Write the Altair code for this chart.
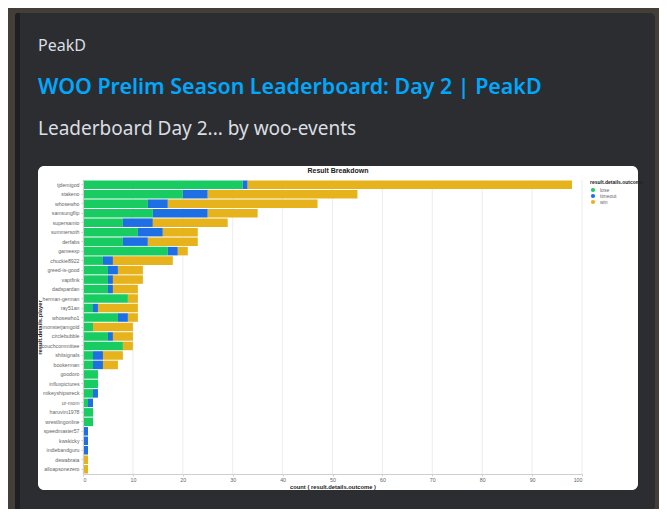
import altair as alt
import pandas as pd

players = ["tjdemigod", "stakeno", "whosewho", "samsungflip", "supersamio", "summersoth",
           "derfabs", "gameexp", "chuckie8922", "greed-is-good", "vaptfink", "dadspardan",
           "herman-german", "ray51an", "whosewho1", "monsterjamgold", "circlebubble",
           "couchcommittee", "shitsignals", "bookerman", "goodoro", "influxpictures",
           "mikeyshipwreck", "ur-mom", "haruvim1978", "wrestlingonline", "speedmaster57",
           "kwskicky", "indiebandguru", "dewabrata", "alloapsonezero"]
lose =    [32, 20, 13, 14, 8, 11, 8, 17, 4, 5, 5, 5, 9, 2, 7, 2, 5, 8, 2, 2, 3, 3, 2, 1, 2, 2, 0, 0, 0, 0, 0]
timeout = [1, 5, 4, 11, 6, 5, 5, 2, 2, 2, 1, 1, 0, 1, 2, 0, 1, 0, 2, 2, 0, 0, 1, 1, 0, 0, 1, 1, 1, 0, 0]
win =     [65, 30, 30, 10, 15, 7, 10, 2, 12, 5, 6, 5, 2, 8, 2, 8, 4, 2, 4, 3, 0, 0, 0, 0, 0, 0, 0, 0, 0, 1, 1]
outcomes = ["lose", "timeout", "win"]
colors = ["#18cc62", "#1d6fe3", "#e7b31d"]
x_ticks = [0, 10, 20, 30, 40, 50, 60, 70, 80, 90, 100]

rows = []
for p, l, t, w in zip(players, lose, timeout, win):
    for o, c in zip(outcomes, (l, t, w)):
        if c > 0:
            rows.append({"player": p, "outcome": o, "n": c})
df = pd.DataFrame(rows)

W, H = 499, 294
one = pd.DataFrame({"k": [0]})
base = alt.Chart(one)

card = base.mark_rect(color="#2b2d31", cornerRadius=5).encode(
    x=alt.value(-68), x2=alt.value(572), y=alt.value(-167), y2=alt.value(331))
strip = base.mark_rect(color="#1e1f22", cornerRadiusTopLeft=5, cornerRadiusBottomLeft=5).encode(
    x=alt.value(-68), x2=alt.value(-63), y=alt.value(-167), y2=alt.value(331))
white = base.mark_rect(color="#ffffff", cornerRadius=6).encode(
    x=alt.value(-45), x2=alt.value(555), y=alt.value(-14), y2=alt.value(310))

xscale = alt.Scale(domain=[0, 100], nice=False)
x_axis = alt.Axis(values=x_ticks, title="count ( result.details.outcome )", grid=False,
                  zindex=1, labelFontSize=5.3, titleFontSize=5.8, titleFontWeight="bold",
                  labelColor="#666", titleColor="#222", domainColor="#cfcfcf",
                  tickColor="#cfcfcf", tickSize=2, labelPadding=1.5, titlePadding=0.5)

grid = alt.Chart(pd.DataFrame({"n": x_ticks})).mark_rule(color="#e8e8e8", strokeWidth=0.8).encode(
    x=alt.X("n:Q", scale=xscale, axis=x_axis), y=alt.value(0), y2=alt.value(H))

bars = alt.Chart(df).mark_bar().encode(
    x=alt.X("sum(n):Q", scale=xscale, axis=x_axis),
    y=alt.Y("player:N", sort=players, title="result.details.player",
            axis=alt.Axis(zindex=1, labelFontSize=5.2, titleFontSize=5.8, titleFontWeight="bold",
                          labelColor="#666", titleColor="#222", domainColor="#cfcfcf",
                          tickColor="#cfcfcf", tickSize=2, labelPadding=2,
                          titleX=-41, titleY=H / 2, titleAngle=270)),
    color=alt.Color("outcome:N", scale=alt.Scale(domain=outcomes, range=colors),
                    title="result.details.outcome",
                    legend=alt.Legend(symbolType="circle", titleFontSize=5, labelFontSize=5,
                                      symbolSize=18, titleColor="#222", labelColor="#666",
                                      offset=8, rowPadding=0, titlePadding=2)),
    order=alt.Order("outcome:N"),
)

ctitle = base.mark_text(text="Result Breakdown", align="center", baseline="middle",
                        font="Liberation Sans", fontSize=7, fontWeight="bold",
                        color="#222").encode(x=alt.value(255), y=alt.value(-9))
t1 = base.mark_text(text="PeakD", align="left", baseline="middle", font="Noto Sans",
                    fontSize=16, color="#dbdee1").encode(x=alt.value(-45), y=alt.value(-134))
t2 = base.mark_text(text="WOO Prelim Season Leaderboard: Day 2 | PeakD", align="left",
                    baseline="middle", font="Noto Sans", fontSize=21.4, fontWeight=600,
                    color="#00a8fc").encode(x=alt.value(-45), y=alt.value(-92))
t3 = base.mark_text(text="Leaderboard Day 2... by woo-events", align="left", baseline="middle",
                    font="Noto Sans", fontSize=19, color="#dbdee1").encode(
    x=alt.value(-45), y=alt.value(-51))

chart = alt.layer(card, strip, white, grid, bars, ctitle, t1, t2, t3).properties(
    width=W, height=H,
    padding={"left": 75, "top": 172, "right": 77, "bottom": 35},
    autosize="none",
    background="#433f38",
).configure_view(stroke=None).configure_axis(labelFont="Liberation Sans", titleFont="Liberation Sans"
).configure_legend(labelFont="Liberation Sans", titleFont="Liberation Sans")

chart.save("out.html", embed_options={"renderer": "svg", "actions": False})
